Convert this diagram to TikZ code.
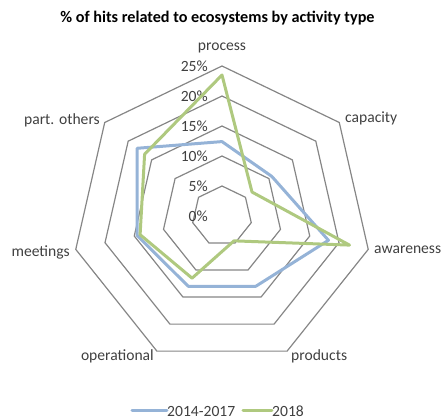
\documentclass[tikz,border=0pt]{standalone}
\usepackage{fontspec}
\setmainfont{Carlito}
\usepackage{xcolor}
\usepackage{tikz}
\usetikzlibrary{positioning}

\definecolor{griglia}{HTML}{868686}
\definecolor{testo}{HTML}{404040}
\definecolor{serieA}{HTML}{95B3D7}
\definecolor{serieB}{HTML}{AFC97F}

\tikzset{
	anello/.style={draw=griglia, line width=1.2pt},
	serie/.style={line width=3pt, line join=round},
	asse/.style={inner sep=0pt, text=testo},
}

\begin{document}
\begin{tikzpicture}[x=1pt, y=1pt, font=\fontsize{15.6}{18}\selectfont]
	\useasboundingbox (-222,-203) rectangle (223,216);

	% titolo
	\node[font=\fontsize{16.2}{19}\bfseries\selectfont, text=black] (titolo) at (-4.5,198) {\% of hits related to ecosystems by activity type};

	% anelli
	\foreach \r in {1,...,5}
		\draw[anello] (90:30*\r) \foreach \k in {1,...,6} { -- ({90-\k*360/7}:{30*\r}) } -- cycle;

	% scala
	\foreach \v in {0,5,...,25}
		\node[asse, anchor=east] (s\v) at (-14,6*\v) {\v\%};

	% etichette
	\node[asse] (process) at (0,168) {process};
	\node[asse, anchor=west] (capacity) at (123,98) {capacity};
	\node[asse, anchor=west] (awareness) at (152,-34) {awareness};
	\node[asse, anchor=west] (products) at (69,-140) {products};
	\node[asse, anchor=east] (operational) at (-68,-140) {operational};
	\node[asse, anchor=east] (meetings) at (-152,-36) {meetings};
	\node[asse, anchor=east] (others) at (-122,96) {part. others};

	% dati
	\foreach \v [count=\k from 0] in {12.4,10.6,18.2,13.0,13.0,14.5,18.1}
		\coordinate (a\k) at ({90-\k*360/7}:{6*\v});
	\foreach \v [count=\k from 0] in {23.5,6.4,21.8,4.6,11.5,14.0,16.5}
		\coordinate (b\k) at ({90-\k*360/7}:{6*\v});

	\draw[serie, serieA] (a0) -- (a1) -- (a2) -- (a3) -- (a4) -- (a5) -- (a6) -- cycle;
	\draw[serie, serieB] (b0) -- (b1) -- (b2) -- (b3) -- (b4) -- (b5) -- (b6) -- cycle;

	% legenda
	\coordinate (la1) at (-90,-195);
	\coordinate (la2) at (-55,-195);
	\coordinate (lb1) at (21,-195);
	\coordinate (lb2) at (50,-195);
	\draw[serie, serieA, line cap=round] (la1) -- (la2);
	\draw[serie, serieB, line cap=round] (lb1) -- (lb2);
	\node[asse, anchor=west] (leg1) at (la2) {2014-2017};
	\node[asse, anchor=west] (leg2) at (lb2) {2018};

\end{tikzpicture}
\end{document}
